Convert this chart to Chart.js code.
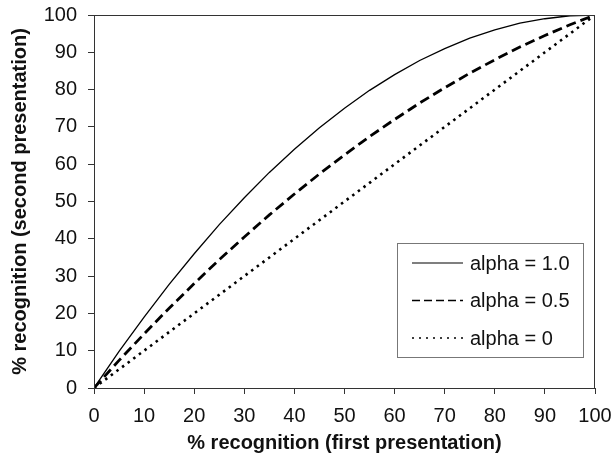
<!DOCTYPE html>
<html>
<head>
<meta charset="utf-8">
<title>Recognition curves</title>
<script src="https://cdn.jsdelivr.net/npm/chart.js@4.4.1/dist/chart.umd.min.js"></script>
<style>
  html, body { margin: 0; padding: 0; background: #fff; }
  #wrap { width: 613px; height: 462px; }
</style>
</head>
<body>
<div id="wrap"><canvas id="chart" width="613" height="462"></canvas></div>
<script>
'use strict';

/* ── Data ────────────────────────────────────────────── */
const firstPct = [0, 5, 10, 15, 20, 25, 30, 35, 40, 45, 50, 55, 60, 65, 70, 75, 80, 85, 90, 95, 100];
const alpha10  = [0, 9.8, 19, 27.8, 36, 43.8, 51, 57.8, 64, 69.8, 75, 79.8, 84, 87.8, 91, 93.8, 96, 97.8, 99, 99.8, 100];
const alpha05  = [0, 7.4, 14.5, 21.4, 28, 34.4, 40.5, 46.4, 52, 57.4, 62.5, 67.4, 72, 76.4, 80.5, 84.4, 88, 91.4, 94.5, 97.4, 100];
const alpha00  = [0, 5, 10, 15, 20, 25, 30, 35, 40, 45, 50, 55, 60, 65, 70, 75, 80, 85, 90, 95, 100];
const seriesLabels = ['alpha = 1.0', 'alpha = 0.5', 'alpha = 0'];

const FONT = '"Liberation Sans", Arial, sans-serif';
const INK = '#111';

function pts(ys) { return firstPct.map((x, i) => ({ x, y: ys[i] })); }

/* legend sample styles (thinner than the plotted lines, like the original) */
const LEGEND_STYLE = [
  { width: 1.1, dash: [] },
  { width: 1.6, dash: [8, 4] },
  { width: 1.6, dash: [2, 5] },
];

/* ── Plugins: frame round the plot + boxed legend inside it ── */
const frame = {
  id: 'frame',
  afterDatasetsDraw(chart) {
    const { ctx, chartArea: a } = chart;
    ctx.save();
    ctx.strokeStyle = '#333';
    ctx.lineWidth = 1;
    ctx.strokeRect(a.left + 0.5, a.top + 0.5, a.right - a.left - 1, a.bottom - a.top);
    ctx.restore();
  }
};

const boxLegend = {
  id: 'boxLegend',
  afterDraw(chart) {
    const { ctx } = chart;
    const bx = 397, by = 243, bw = 186, bh = 114;
    ctx.save();
    ctx.fillStyle = '#fff';
    ctx.fillRect(bx, by, bw, bh);
    ctx.strokeStyle = '#777';
    ctx.lineWidth = 1;
    ctx.strokeRect(bx + 0.5, by + 0.5, bw, bh);
    ctx.font = '20px ' + FONT;
    ctx.fillStyle = INK;
    ctx.textBaseline = 'middle';
    chart.data.datasets.forEach((ds, i) => {
      const y = 263 + i * 37.5;
      const st = LEGEND_STYLE[i];
      ctx.beginPath();
      ctx.strokeStyle = '#000';
      ctx.lineWidth = st.width;
      ctx.setLineDash(st.dash);
      ctx.moveTo(412, y);
      ctx.lineTo(463, y);
      ctx.stroke();
      ctx.setLineDash([]);
      ctx.fillText(ds.label, 470, y + 1);
    });
    ctx.restore();
  }
};

/* ── Chart ───────────────────────────────────────────── */
new Chart(document.getElementById('chart').getContext('2d'), {
  type: 'line',
  data: {
    datasets: [
      { label: seriesLabels[0], data: pts(alpha10), borderColor: '#000', borderWidth: 1.3, borderDash: [] },
      { label: seriesLabels[1], data: pts(alpha05), borderColor: '#000', borderWidth: 2.8, borderDash: [10, 5] },
      { label: seriesLabels[2], data: pts(alpha00), borderColor: '#000', borderWidth: 2.6, borderDash: [2.5, 4.5] },
    ]
  },
  options: {
    responsive: false,
    animation: false,
    events: [],
    layout: { padding: { top: 15, right: 18, left: 0, bottom: 0 } },
    elements: { point: { radius: 0 }, line: { tension: 0, fill: false } },
    plugins: { legend: { display: false }, tooltip: { enabled: false } },
    scales: {
      x: {
        type: 'linear', min: 0, max: 100,
        afterFit(s) { s.height = 74; s.paddingLeft = 0; s.paddingRight = 0; },
        ticks: { stepSize: 10, padding: 10, color: INK, font: { family: FONT, size: 20 } },
        grid: { drawOnChartArea: false, drawTicks: true, tickLength: 6, tickColor: '#333' },
        border: { display: true, color: '#333', width: 1 },
        title: {
          display: true, text: '% recognition (first presentation)', color: INK,
          font: { family: FONT, size: 20, weight: 'bold' }, padding: { top: 0, bottom: 7 }
        }
      },
      y: {
        min: 0, max: 100,
        afterFit(s) { s.width = 94; s.paddingTop = 0; s.paddingBottom = 0; },
        ticks: { stepSize: 10, padding: 11, color: INK, font: { family: FONT, size: 20 } },
        grid: { drawOnChartArea: false, drawTicks: true, tickLength: 6, tickColor: '#333' },
        border: { display: true, color: '#333', width: 1 },
        title: {
          display: true, text: '% recognition (second presentation)', color: INK,
          font: { family: FONT, size: 20, weight: 'bold' }, padding: { top: 8, bottom: 0 }
        }
      }
    }
  },
  plugins: [frame, boxLegend]
});
</script>
</body>
</html>
